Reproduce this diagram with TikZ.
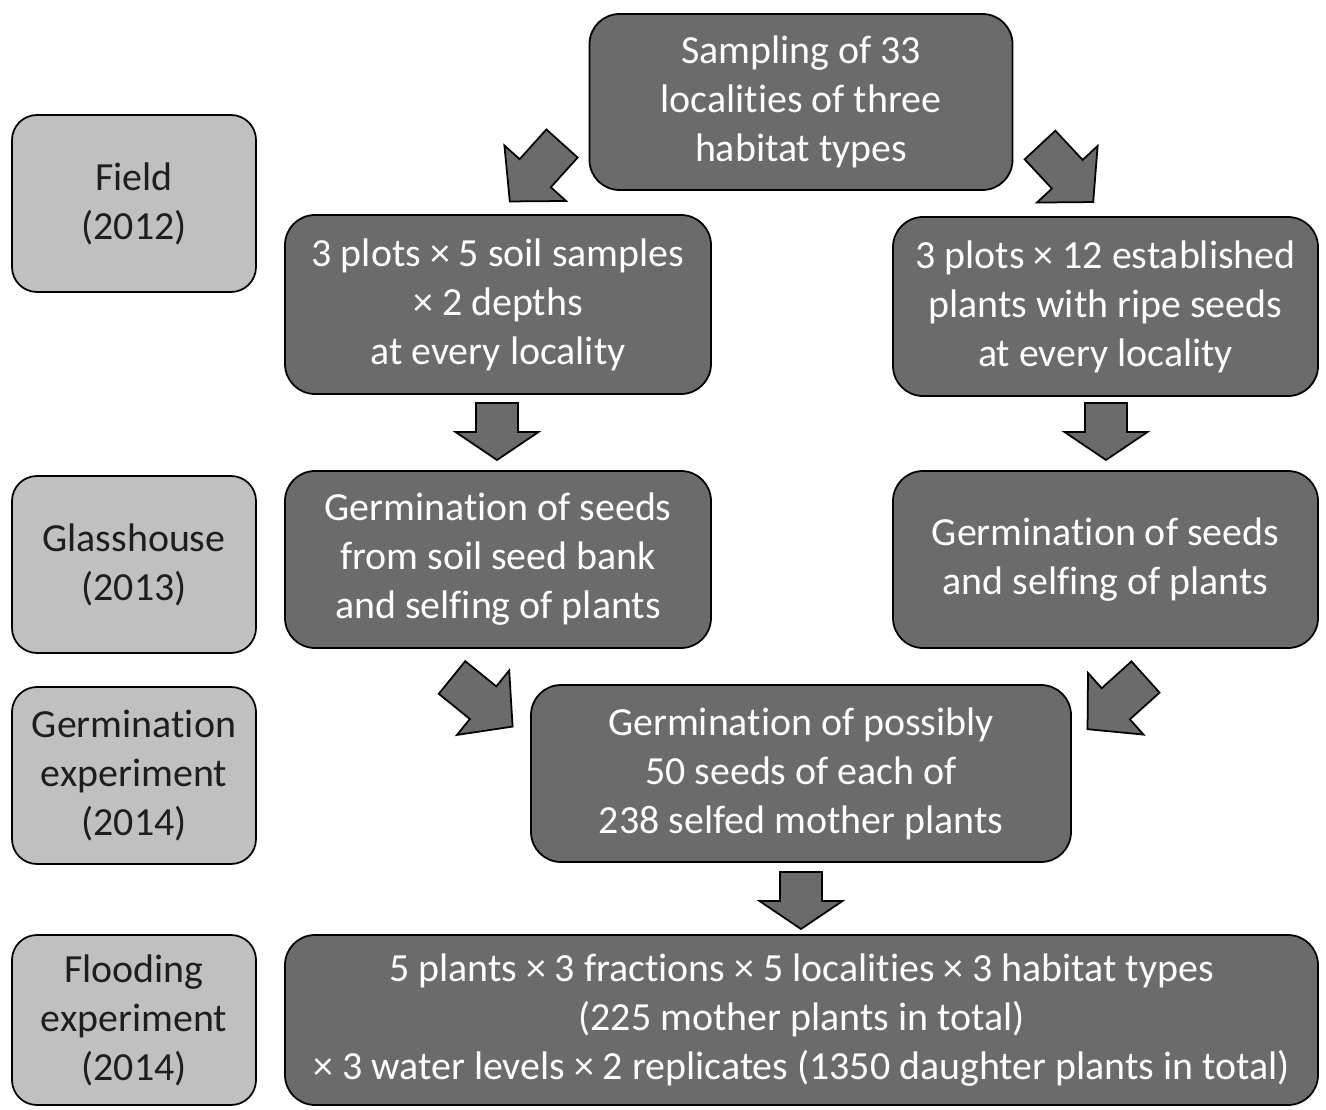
\documentclass[tikz,border=0pt]{standalone}
\usepackage{fontspec}
\setmainfont[Ligatures=NoCommon]{Carlito}
\usepackage{xcolor}
\usepackage{tikz}

\definecolor{stepdark}{HTML}{6B6B6B}
\definecolor{steplight}{HTML}{C0C0C0}
\definecolor{labeltext}{HTML}{1E1E1E}

\newcommand{\blkarrow}[4]{\draw[blockarrow,shift={(#1)},rotate=#2] (0,-0.42) -- (#3,-0.42) -- (#3,-0.83) -- ({#3+#4},0) -- (#3,0.83) -- (#3,0.42) -- (0,0.42) -- cycle;}

\begin{document}
\begin{tikzpicture}[
  stepbox/.style={draw=black, line width=1pt, rounded corners=0.6cm, fill=stepdark, text=white, align=center, inner sep=0pt, minimum height=3.54cm, font=\fontsize{22.7}{27.9}\selectfont},
  phasebox/.style={draw=black, line width=1pt, rounded corners=0.5cm, fill=steplight, text=labeltext, align=center, inner sep=0pt, minimum width=4.88cm, minimum height=3.54cm, font=\fontsize{22.7}{27.9}\selectfont},
  blockarrow/.style={draw=black, line width=1pt, fill=stepdark, line join=miter}
]
\useasboundingbox (0,0) rectangle (26.52,-22.2);

\node[stepbox, minimum width=8.46cm, minimum height=3.52cm] (sampling) at (16.02,-2.04) {Sampling of 33\\localities of three\\habitat types};

\node[phasebox] (field) at (2.68,-4.07) {Field\\(2012)};
\node[phasebox] (glass) at (2.68,-11.29) {Glasshouse\\(2013)};
\node[phasebox] (germexp) at (2.68,-15.51) {Germination\\experiment\\(2014)};
\node[phasebox, minimum height=3.4cm] (flood) at (2.68,-20.4) {Flooding\\experiment\\(2014)};

\node[stepbox, minimum width=8.52cm, minimum height=3.58cm] (soil) at (9.96,-6.09) {3 plots × 5 soil samples\\× 2 depths\\at every locality};
\node[stepbox, minimum width=8.5cm, minimum height=3.58cm] (plants) at (22.11,-6.13) {3 plots × 12 established\\plants with ripe seeds\\at every locality};

\node[stepbox, minimum width=8.52cm] (germsoil) at (9.96,-11.19) {Germination of seeds\\from soil seed bank\\and selfing of plants};
\node[stepbox, minimum width=8.5cm] (germplants) at (22.11,-11.19) {Germination of seeds\\and selfing of plants};

\node[stepbox, minimum width=10.8cm] (germmid) at (16.02,-15.47) {Germination of possibly\\50 seeds of each of\\238 selfed mother plants};

\node[stepbox, minimum width=20.66cm, minimum height=3.4cm] (flooding) at (16.03,-20.4) {5 plants × 3 fractions × 5 localities × 3 habitat types\\(225 mother plants in total)\\× 3 water levels × 2 replicates (1350 daughter plants in total)};

\coordinate (t1) at (11.24,-2.87);
\coordinate (t2) at (20.8,-2.9);
\coordinate (t3) at (9.94,-8.06);
\coordinate (t4) at (22.12,-8.06);
\coordinate (t5) at (9.04,-13.55);
\coordinate (t6) at (22.91,-13.54);
\coordinate (t7) at (16.02,-17.44);

\blkarrow{t1}{228}{0.8}{0.76}
\blkarrow{t2}{-47}{0.8}{0.76}
\blkarrow{t3}{-90}{0.58}{0.56}
\blkarrow{t4}{-90}{0.58}{0.56}
\blkarrow{t5}{-39}{0.8}{0.76}
\blkarrow{t6}{222}{0.8}{0.76}
\blkarrow{t7}{-90}{0.58}{0.56}
\end{tikzpicture}
\end{document}
